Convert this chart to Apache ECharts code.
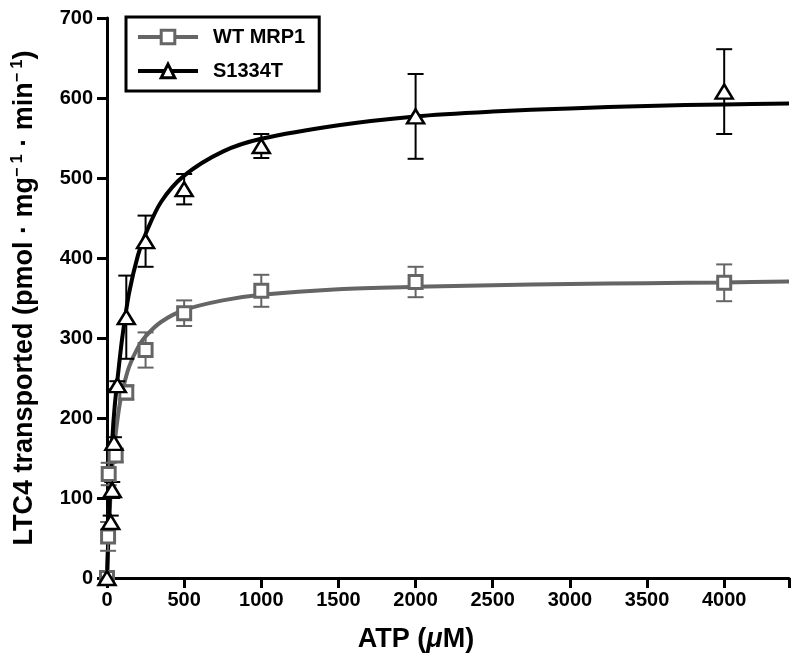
<!DOCTYPE html>
<html><head><meta charset="utf-8">
<script src="https://cdn.jsdelivr.net/npm/echarts@6/dist/echarts.min.js"></script>
<style>html,body{margin:0;padding:0;background:#fff}#c{width:800px;height:670px}</style>
</head><body><div id="c"></div>
<script>
// ---- data ----
const xTicks = [0, 500, 1000, 1500, 2000, 2500, 3000, 3500, 4000];
const yTicks = [0, 100, 200, 300, 400, 500, 600, 700];

const wtX   = [0, 7, 11, 56, 125, 250, 500, 1000, 2000, 4000];
const wtY   = [0, 52, 130, 153, 232, 285, 331, 359, 370, 369];
const wtErr = [8, 18, 14, 8, 9, 22, 16, 20, 19, 23];

const mutX   = [0, 24, 34, 45, 67, 125, 250, 500, 1000, 2000, 4000];
const mutY   = [0, 70, 110, 169, 241, 326, 421, 486, 540, 577, 608];
const mutErr = [5, 8, 10, 7, 5, 52, 32, 19, 15, 53, 53];

const curveX   = [0, 5, 10, 20, 34, 50, 78, 100, 143, 200, 250, 350, 500, 750, 1000, 1500, 2000, 2500, 3000, 3500, 4000, 4420];
const wtCurve  = [0, 29, 54, 94, 136, 170, 212, 234, 264, 288, 302, 320, 335, 347, 354, 361, 364, 366, 367.5, 368.5, 369.5, 370.5];
const mutCurve = [0, 30, 58, 108, 172, 215, 266, 302, 356, 403, 430, 470, 503, 533, 549, 566, 577, 583, 587, 590, 592, 593];

const seriesNames = ['WT MRP1', 'S1334T'];
const GRAY = '#656565';
const BLACK = '#000000';

function pairs(xs, ys) { return xs.map((x, i) => [x, ys[i]]); }
function errData(xs, ys, es) { return xs.map((x, i) => [x, ys[i] - es[i], ys[i] + es[i]]); }

function errRender(color) {
  return function (params, api) {
    const x = api.value(0);
    const lo = api.coord([x, api.value(1)]);
    const hi = api.coord([x, api.value(2)]);
    const w = 8;
    const st = { stroke: color, lineWidth: 2 };
    return {
      type: 'group',
      children: [
        { type: 'line', shape: { x1: lo[0], y1: lo[1], x2: hi[0], y2: hi[1] }, style: st },
        { type: 'line', shape: { x1: lo[0] - w, y1: lo[1], x2: lo[0] + w, y2: lo[1] }, style: st },
        { type: 'line', shape: { x1: hi[0] - w, y1: hi[1], x2: hi[0] + w, y2: hi[1] }, style: st }
      ]
    };
  };
}

const F = "'Liberation Sans', Arial, Helvetica, sans-serif";

const chart = echarts.init(document.getElementById('c'), null, { renderer: 'canvas' });
chart.setOption({
  animation: false,
  backgroundColor: '#fff',
  grid: { left: 107, right: 11, top: 18, bottom: 92, containLabel: false },
  legend: {
    data: [
      { name: seriesNames[0], lineStyle: { color: GRAY, width: 4 }, itemStyle: { color: '#fff', borderColor: GRAY, borderWidth: 3 } },
      { name: seriesNames[1], lineStyle: { color: BLACK, width: 4 }, itemStyle: { color: '#fff', borderColor: BLACK, borderWidth: 3 } }
    ],
    orient: 'vertical',
    left: 126, top: 17,
    padding: [10, 14, 10, 10],
    itemWidth: 60, itemHeight: 17, itemGap: 14,
    borderColor: '#000', borderWidth: 3,
    textStyle: { fontSize: 20, fontWeight: 'bold', fontFamily: F, color: '#000', padding: [0, 0, 0, 10] }
  },
  xAxis: {
    type: 'value', min: 0, max: 4420, interval: 500,
    axisLine: { onZero: false, lineStyle: { color: '#000', width: 3 } },
    axisTick: { length: 10, lineStyle: { color: '#000', width: 3 } },
    splitLine: { show: false },
    axisLabel: {
      margin: 12, fontSize: 20, fontWeight: 'bold', fontFamily: F, color: '#000',
      customValues: xTicks, formatter: v => String(v)
    },
    name: '{b|ATP (}{i|μ}{b|M)}',
    nameLocation: 'middle', nameGap: 48,
    nameTextStyle: {
      padding: [0, 64, 0, 0],
      rich: {
        b: { fontSize: 27, fontWeight: 'bold', fontFamily: F, color: '#000' },
        i: { fontSize: 27, fontWeight: 'bold', fontStyle: 'italic', fontFamily: F, color: '#000' }
      }
    }
  },
  yAxis: {
    type: 'value', min: 0, max: 700, interval: 100,
    axisLine: { onZero: false, lineStyle: { color: '#000', width: 3 } },
    axisTick: { length: 10, lineStyle: { color: '#000', width: 3 } },
    splitLine: { show: false },
    axisLabel: {
      margin: 14, fontSize: 20, fontWeight: 'bold', fontFamily: F, color: '#000',
      customValues: yTicks
    },
    name: '{b|LTC4 transported (pmol \u00b7 mg}{s|\u2212 1}{b| \u00b7 min}{s|\u2212 1}{b|)}',
    nameLocation: 'middle', nameGap: 67, nameRotate: 90,
    nameTextStyle: {
      rich: {
        b: { fontSize: 27, fontWeight: 'bold', fontFamily: F, color: '#000', height: 30 },
        s: { fontSize: 16, fontWeight: 'bold', fontFamily: F, color: '#000', verticalAlign: 'top', padding: [0, 0, 12, 0] }
      }
    }
  },
  series: [
    {
      name: seriesNames[0], type: 'line', data: pairs(curveX, wtCurve),
      smooth: 0.3, showSymbol: false, symbol: 'rect', symbolSize: 13,
      itemStyle: { color: '#fff', borderColor: GRAY, borderWidth: 3 },
      lineStyle: { color: GRAY, width: 4 }, z: 2
    },
    {
      name: seriesNames[1], type: 'line', data: pairs(curveX, mutCurve),
      smooth: 0.3, showSymbol: false, symbol: 'triangle', symbolSize: [17, 14],
      itemStyle: { color: '#fff', borderColor: BLACK, borderWidth: 3 },
      lineStyle: { color: BLACK, width: 4 }, z: 2
    },
    {
      name: 'wtErr', type: 'custom', data: errData(wtX, wtY, wtErr),
      renderItem: errRender(GRAY), z: 3, silent: true
    },
    {
      name: 'mutErr', type: 'custom', data: errData(mutX, mutY, mutErr),
      renderItem: errRender(BLACK), z: 3, silent: true
    },
    {
      name: 'wtPts', type: 'scatter', data: pairs(wtX, wtY),
      symbol: 'rect', symbolSize: 13,
      itemStyle: { color: '#fff', borderColor: GRAY, borderWidth: 3, opacity: 1 }, z: 5
    },
    {
      name: 'mutPts', type: 'scatter', data: pairs(mutX, mutY),
      symbol: 'triangle', symbolSize: [17, 14],
      itemStyle: { color: '#fff', borderColor: BLACK, borderWidth: 2.5, opacity: 1 }, z: 6
    }
  ]
});
</script>
</body></html>
